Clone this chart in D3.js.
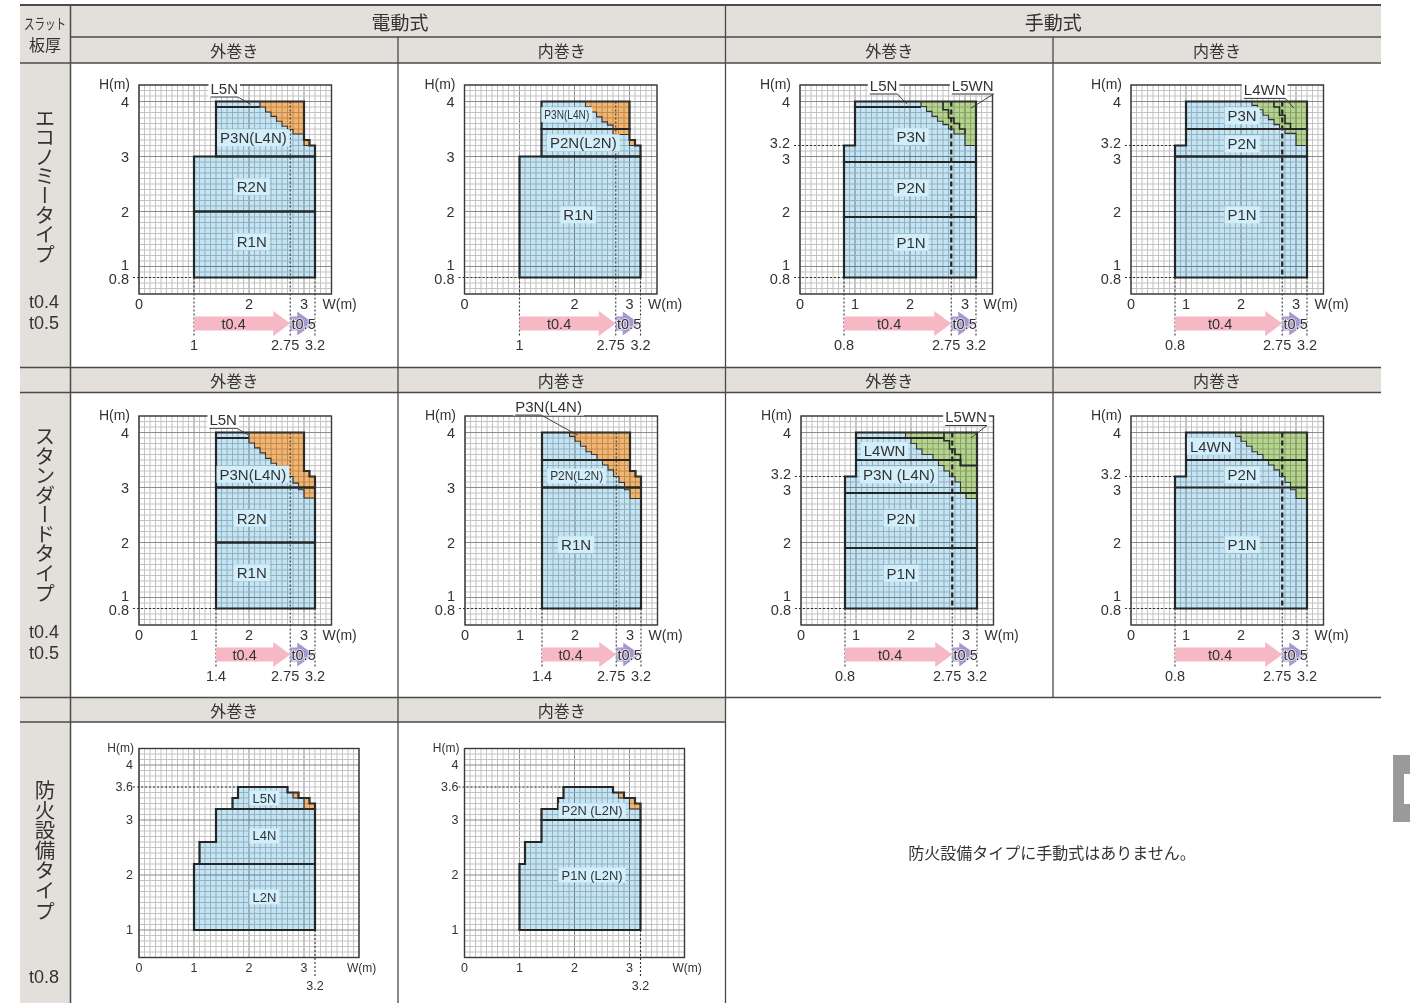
<!DOCTYPE html>
<html><head><meta charset="utf-8">
<script src="https://cdn.jsdelivr.net/npm/d3@7"></script>
<style>
body{margin:0;background:#fff;}
svg{display:block;font-family:"Liberation Sans",Arial,sans-serif;}
.jp{font-family:"Noto Sans CJK JP","Noto Sans",sans-serif;}
</style></head><body>
<svg id="c" width="1410" height="1003"></svg>
<script>
// ---------------- categories / texts ----------------
const driveTypes = ["電動式", "手動式"];
const windTypes = ["外巻き", "内巻き"];
const rowTypes = ["エコノミータイプ", "スタンダードタイプ", "防火設備タイプ"];
const rowThickness = [["t0.4", "t0.5"], ["t0.4", "t0.5"], ["t0.8"]];
const bandLabels = ["t0.4", "t0.5"];
const fireNote = "防火設備タイプに手動式はありません。";

// ---------------- key values (m) ----------------
const bandSplitW = 2.75;
const maxW = 3.2;
const minH = 0.8;
const stepH = 3.2;
const fireMaxH = 3.6;
const fireMinH = 1;
const minW = [1, 1, 0.8, 0.8, 1.4, 1.4, 0.8, 0.8];   // panels A..H

// ---------------- tick labels ----------------
const xTicksEco = [0, 2, 3];
const xTicksAll = [0, 1, 2, 3];
const yTicksElec = [4, 3, 2, 1, 0.8];
const yTicksMan = [4, 3.2, 3, 2, 1, 0.8];
const yTicksFire = [4, 3.6, 3, 2, 1];

// ---------------- A: エコノミー / 電動 / 外巻き ----------------
const aRegions = [[[1,0.8],[3.2,0.8],[3.2,2],[1,2]], [[1,2],[3.2,2],[3.2,3],[1,3]],
  [[1.4,3],[3.2,3],[3.2,3.2],[3.1,3.2],[3.1,3.3],[3,3.3],[3,4],[1.4,4]]];
const aColored = [[[2.2,4],[3,4],[3,3.41],[2.8,3.41],[2.8,3.49],[2.7,3.49],[2.7,3.55],[2.6,3.55],[2.6,3.64],[2.5,3.64],[2.5,3.73],[2.4,3.73],[2.4,3.81],[2.3,3.81],[2.3,3.9],[2.2,3.9]],
  [[3,3.2],[3.1,3.2],[3.1,3.3],[3,3.3]]];
const aLines = [[[1.4,3.9],[2.2,3.9]]];
const aInner = [];
const aLabels = [["R1N",2.05,1.45],["R2N",2.05,2.45],["P3N(L4N)",2.08,3.34]];
const aCallouts = [["L5N",1.55,4.245,2.03,3.95,1]];

// ---------------- B: エコノミー / 電動 / 内巻き ----------------
const bRegions = [[[1,0.8],[3.2,0.8],[3.2,3],[1,3]],
  [[1.4,3],[3.2,3],[3.2,3.2],[3.1,3.2],[3.1,3.3],[3,3.3],[3,3.5],[1.4,3.5]],
  [[1.4,3.5],[3,3.5],[3,4],[1.4,4]]];
const bColored = [[[2.2,4],[3,4],[3,3.4],[2.7,3.4],[2.7,3.57],[2.6,3.57],[2.6,3.63],[2.5,3.63],[2.5,3.72],[2.4,3.72],[2.4,3.81],[2.3,3.81],[2.3,3.9],[2.2,3.9]],
  [[3,3.2],[3.1,3.2],[3.1,3.3],[3,3.3]]];
const bLines = [];
const bInner = [];
const bLabels = [["R1N",2.07,1.94],["P2N(L2N)",2.16,3.25],["P3N(L4N)",1.86,3.76,45]];
const bCallouts = [];

// ---------------- C: エコノミー / 手動 / 外巻き ----------------
const cRegions = [[[0.8,0.8],[3.2,0.8],[3.2,1.9],[0.8,1.9]], [[0.8,1.9],[3.2,1.9],[3.2,2.9],[0.8,2.9]],
  [[0.8,2.9],[3.2,2.9],[3.2,4],[1,4],[1,3.2],[0.8,3.2]]];
const cColored = [[[2.2,4],[3.2,4],[3.2,3.2],[3,3.2],[3,3.41],[2.8,3.41],[2.8,3.5],[2.7,3.5],[2.7,3.58],[2.6,3.58],[2.6,3.64],[2.5,3.64],[2.5,3.73],[2.4,3.73],[2.4,3.82],[2.3,3.82],[2.3,3.91],[2.2,3.91]]];
const cLines = [[[1,3.9],[2.2,3.9]]];
const cInner = [[[2.6,4],[2.6,3.85],[2.7,3.85],[2.7,3.7],[2.8,3.7],[2.8,3.6],[2.9,3.6],[2.9,3.5],[3,3.5],[3,3.41]]];
const cLabels = [["P1N",2.02,1.44],["P2N",2.02,2.43],["P3N",2.02,3.36]];
const cCallouts = [["L5N",1.52,4.3,1.95,3.95,1],["L5WN",3.14,4.3,3.11,3.88,1]];

// ---------------- D: エコノミー / 手動 / 内巻き ----------------
const dRegions = [[[0.8,0.8],[3.2,0.8],[3.2,3],[0.8,3]], [[0.8,3],[3.2,3],[3.2,3.5],[1,3.5],[1,3.2],[0.8,3.2]],
  [[1,3.5],[3.2,3.5],[3.2,4],[1,4]]];
const dColored = [[[2.2,4],[3.2,4],[3.2,3.2],[3,3.2],[3,3.42],[2.8,3.42],[2.8,3.5],[2.7,3.5],[2.7,3.58],[2.6,3.58],[2.6,3.67],[2.5,3.67],[2.5,3.75],[2.4,3.75],[2.4,3.85],[2.3,3.85],[2.3,3.93],[2.2,3.93]]];
const dLines = [];
const dInner = [[[2.6,4],[2.6,3.9],[2.7,3.9],[2.7,3.75],[2.8,3.75],[2.8,3.6],[2.9,3.6],[2.9,3.5]]];
const dLabels = [["P1N",2.02,1.94],["P2N",2.02,3.23],["P3N",2.02,3.74]];
const dCallouts = [["L4WN",2.43,4.22,2.96,3.88,1]];

// ---------------- E: スタンダード / 電動 / 外巻き ----------------
const eRegions = [[[1.4,0.8],[3.2,0.8],[3.2,2],[1.4,2]], [[1.4,2],[3.2,2],[3.2,3],[1.4,3]],
  [[1.4,3],[3.2,3],[3.2,3.2],[3.1,3.2],[3.1,3.3],[3,3.3],[3,4],[1.4,4]]];
const eColored = [[[2,4],[3,4],[3,3.3],[3.1,3.3],[3.1,3.2],[3.2,3.2],[3.2,2.81],[3,2.81],[3,2.96],[2.9,2.96],[2.9,3.08],[2.8,3.08],[2.8,3.2],[2.7,3.2],[2.7,3.29],[2.6,3.29],[2.6,3.38],[2.5,3.38],[2.5,3.44],[2.4,3.44],[2.4,3.53],[2.3,3.53],[2.3,3.63],[2.2,3.63],[2.2,3.72],[2.1,3.72],[2.1,3.81],[2,3.81]]];
const eLines = [[[1.4,3.9],[2,3.9]]];
const eInner = [];
const eLabels = [["R1N",2.05,1.45],["R2N",2.05,2.44],["P3N(L4N)",2.07,3.24]];
const eCallouts = [["L5N",1.53,4.24,1.98,3.96,1]];

// ---------------- F: スタンダード / 電動 / 内巻き ----------------
const fRegions = [[[1.4,0.8],[3.2,0.8],[3.2,3],[1.4,3]],
  [[1.4,3],[3.2,3],[3.2,3.2],[3.1,3.2],[3.1,3.3],[3,3.3],[3,3.5],[1.4,3.5]],
  [[1.4,3.5],[3,3.5],[3,4],[1.4,4]]];
const fColored = [[[1.9,4],[3,4],[3,3.3],[3.1,3.3],[3.1,3.2],[3.2,3.2],[3.2,2.8],[3,2.8],[3,2.96],[2.9,2.96],[2.9,3.09],[2.8,3.09],[2.8,3.2],[2.7,3.2],[2.7,3.32],[2.6,3.32],[2.6,3.41],[2.5,3.41],[2.5,3.5],[2.4,3.5],[2.4,3.6],[2.3,3.6],[2.3,3.65],[2.2,3.65],[2.2,3.75],[2.1,3.75],[2.1,3.84],[2,3.84],[2,3.93],[1.9,3.93]]];
const fLines = [];
const fInner = [];
const fLabels = [["R1N",2.02,1.96],["P2N(L2N)",2.03,3.21,53]];
const fCallouts = [["P3N(L4N)",1.52,4.48,2.05,3.95,0.39]];

// ---------------- G: スタンダード / 手動 / 外巻き ----------------
const gRegions = [[[0.8,0.8],[3.2,0.8],[3.2,4],[1,4],[1,3.2],[0.8,3.2]]];
const gColored = [[[1.9,4],[3.2,4],[3.2,2.8],[3,2.8],[3,2.9],[2.9,2.9],[2.9,3.1],[2.8,3.1],[2.8,3.2],[2.7,3.2],[2.7,3.3],[2.6,3.3],[2.6,3.4],[2.5,3.4],[2.5,3.5],[2.4,3.5],[2.4,3.6],[2.2,3.6],[2.2,3.7],[2.1,3.7],[2.1,3.8],[2,3.8],[2,3.9],[1.9,3.9]]];
const gLines = [[[0.8,1.9],[3.2,1.9]], [[0.8,2.9],[3.2,2.9]], [[1,3.5],[2.9,3.5],[2.9,3.4],[3.2,3.4]], [[1,3.9],[2.6,3.9]]];
const gInner = [[[2.6,4],[2.6,3.85],[2.7,3.85],[2.7,3.7],[2.8,3.7],[2.8,3.6],[2.9,3.6],[2.9,3.5]]];
const gLabels = [["P1N",1.82,1.44],["P2N",1.82,2.44],["P3N (L4N)",1.78,3.23,72,15],["L4WN",1.52,3.67]];
const gCallouts = [["L5WN",3.0,4.29,3.09,3.9,1]];

// ---------------- H: スタンダード / 手動 / 内巻き ----------------
const hRegions = [[[0.8,0.8],[3.2,0.8],[3.2,4],[1,4],[1,3.2],[0.8,3.2]]];
const hColored = [[[1.9,4],[3.2,4],[3.2,2.8],[3,2.8],[3,2.96],[2.9,2.96],[2.9,3.09],[2.8,3.09],[2.8,3.2],[2.7,3.2],[2.7,3.32],[2.6,3.32],[2.6,3.41],[2.5,3.41],[2.5,3.5],[2.4,3.5],[2.4,3.6],[2.3,3.6],[2.3,3.65],[2.2,3.65],[2.2,3.75],[2.1,3.75],[2.1,3.84],[2,3.84],[2,3.93],[1.9,3.93]]];
const hLines = [[[0.8,3],[3.2,3]], [[1,3.5],[3.2,3.5]]];
const hInner = [];
const hLabels = [["P1N",2.02,1.96],["P2N",2.02,3.23],["L4WN",1.45,3.75]];
const hCallouts = [];

// ---------------- I: 防火設備 / 外巻き ----------------
const iRegions = [[[1,1],[3.2,1],[3.2,2.2],[1,2.2]],
  [[1.1,2.2],[3.2,2.2],[3.2,3.2],[1.4,3.2],[1.4,2.6],[1.1,2.6]],
  [[1.7,3.2],[3.2,3.2],[3.2,3.3],[3.1,3.3],[3.1,3.4],[2.9,3.4],[2.9,3.5],[2.7,3.5],[2.7,3.6],[1.8,3.6],[1.8,3.4],[1.7,3.4]]];
const iColored = [[[2.8,3.4],[2.9,3.4],[2.9,3.5],[2.8,3.5]], [[3,3.2],[3.2,3.2],[3.2,3.3],[3.1,3.3],[3.1,3.4],[3,3.4]]];
const iLabels = [["L5N",2.28,3.4],["L4N",2.28,2.71],["L2N",2.28,1.6]];

// ---------------- J: 防火設備 / 内巻き ----------------
const jRegions = [[[1,1],[3.2,1],[3.2,3],[1.4,3],[1.4,2.6],[1.1,2.6],[1.1,2.2],[1,2.2]],
  [[1.4,3],[3.2,3],[3.2,3.3],[3.1,3.3],[3.1,3.4],[2.9,3.4],[2.9,3.5],[2.7,3.5],[2.7,3.6],[1.8,3.6],[1.8,3.4],[1.7,3.4],[1.7,3.2],[1.4,3.2]]];
const jColored = [[[2.8,3.4],[2.9,3.4],[2.9,3.5],[2.8,3.5]], [[3,3.2],[3.2,3.2],[3.2,3.3],[3.1,3.3],[3.1,3.4],[3,3.4]]];
const jLabels = [["P2N (L2N)",2.32,3.17,61,13],["P1N (L2N)",2.32,2.0,61,13]];

// ================= drawing =================
const UNIT = 55;
const BLUE = "#c3e5f5", LABEL_BG = "#d2eefb", ORANGE = "#f4b66f", GREEN = "#b5d48d", GRAY = "#e3dfdb", INK = "#333";
const svg = d3.select("#c");

// ---- table ----
const colX = [20, 70.5, 398, 725.5, 1053, 1381];
const grayRects = [
  [20, 5, 1381, 63], [20, 63, 70.5, 367.5], [20, 367.5, 1381, 392.5], [20, 392.5, 70.5, 697.5],
  [20, 697.5, 725.5, 722], [20, 722, 70.5, 1003]
];
svg.append("g").selectAll("rect").data(grayRects).join("rect")
  .attr("x", d => d[0]).attr("y", d => d[1]).attr("width", d => d[2] - d[0]).attr("height", d => d[3] - d[1])
  .attr("fill", GRAY);
const tLines = [
  [20, 5, 1381, 5, 2], [70.5, 37, 1381, 37, 1.3], [20, 63, 1381, 63, 1.5], [20, 367.5, 1381, 367.5, 1.5],
  [20, 392.5, 1381, 392.5, 1.3], [20, 697.5, 1381, 697.5, 1.5], [20, 722, 725.5, 722, 1.3],
  [70.5, 5, 70.5, 1003, 1.5], [398, 37, 398, 1003, 1.3], [725.5, 5, 725.5, 1003, 1.3], [1053, 37, 1053, 697.5, 1.3]
];
svg.append("g").selectAll("line").data(tLines).join("line")
  .attr("x1", d => d[0]).attr("y1", d => d[1]).attr("x2", d => d[2]).attr("y2", d => d[3])
  .attr("stroke", "#4a4a4a").attr("stroke-width", d => d[4]);

function jpText(x, y, s, size, extra) {
  const t = svg.append("text").attr("class", "jp").attr("x", x).attr("y", y)
    .attr("text-anchor", "middle").attr("dominant-baseline", "central")
    .attr("font-size", size).attr("fill", INK).text(s);
  if (extra) extra(t);
  return t;
}
jpText(45, 22, "スラット", 14.5, t => t.attr("textLength", 42).attr("lengthAdjust", "spacingAndGlyphs"));
jpText(45, 44, "板厚", 16);
jpText((colX[1] + colX[3]) / 2 + 2, 21.5, driveTypes[0], 19);
jpText((colX[3] + colX[5]) / 2, 21.5, driveTypes[1], 19);
const subRows = [[50, 4], [380, 4], [710, 2]];
subRows.forEach(([yy, n]) => {
  for (let c = 0; c < n; c++) jpText((colX[c + 1] + colX[c + 2]) / 2, yy, windTypes[c % 2], 16);
});
// left vertical type labels (one vertical text each)
const typeStart = [108, 426, 780], typeLen = [156, 177, 141];
rowTypes.forEach((t, i) => {
  svg.append("text").attr("class", "jp").attr("x", 45).attr("y", typeStart[i])
    .style("writing-mode", "vertical-rl").attr("text-anchor", "start")
    .attr("font-size", 20.5).attr("fill", INK)
    .attr("textLength", typeLen[i]).attr("lengthAdjust", "spacing").text(t);
});
const thickY = [[302, 323], [632, 653], [977]];
rowThickness.forEach((arr, i) => arr.forEach((s, j) => {
  svg.append("text").attr("x", 44).attr("y", thickY[i][j]).attr("text-anchor", "middle")
    .attr("dominant-baseline", "central").attr("font-size", 18).attr("fill", INK).text(s);
}));
jpText(1052, 852, fireNote, 16);
// page tab
svg.append("rect").attr("x", 1393).attr("y", 755).attr("width", 17).attr("height", 67).attr("fill", "#9a9a9a");
svg.append("rect").attr("x", 1404).attr("y", 774).attr("width", 6).attr("height", 30).attr("fill", "#fff");

// ---- panels ----
function drawPanel(p) {
  const g = svg.append("g");
  const x = d3.scaleLinear().domain([0, p.xMax]).range([p.left, p.left + UNIT * p.xMax]);
  const y = d3.scaleLinear().domain([0.5, 4.3]).range([p.top + UNIT * 3.8, p.top]);
  const X0 = x(0), X1 = x(p.xMax), Y0 = y(0.5), Y1 = y(4.3);
  const ln = d3.line().x(d => x(d[0])).y(d => y(d[1]));
  const poly = d => ln(d) + "Z";
  const fs = p.fire ? 12.5 : 14.5;
  const lfs = p.fire ? 13 : 15;

  g.append("rect").attr("x", X0).attr("y", Y1).attr("width", X1 - X0).attr("height", Y0 - Y1).attr("fill", "#fff");
  g.append("g").selectAll("path").data(p.regions).join("path").attr("d", poly).attr("fill", BLUE);
  g.append("g").selectAll("path").data(p.colored).join("path").attr("d", poly).attr("fill", p.color);

  const gx = d3.range(0, Math.round(p.xMax * 10) + 1).map(i => i / 10);
  const gy = d3.range(5, 44).map(i => i / 10);
  const isMajor = v => Math.abs(v - Math.round(v)) < 1e-6;
  const grid = g.append("g").style("mix-blend-mode", "multiply");
  grid.selectAll("line.v").data(gx).join("line").attr("class", "v")
    .attr("x1", d => x(d)).attr("x2", d => x(d)).attr("y1", Y0).attr("y2", Y1)
    .attr("stroke", d => isMajor(d) ? "#8c8c8c" : "#c3c3c3").attr("stroke-width", 1);
  grid.selectAll("line.h").data(gy).join("line").attr("class", "h")
    .attr("y1", d => y(d)).attr("y2", d => y(d)).attr("x1", X0).attr("x2", X1)
    .attr("stroke", d => isMajor(d) ? "#8c8c8c" : "#c3c3c3").attr("stroke-width", 1);
  g.append("rect").attr("x", X0).attr("y", Y1).attr("width", X1 - X0).attr("height", Y0 - Y1)
    .attr("fill", "none").attr("stroke", "#3a3a3a").attr("stroke-width", 1.4);

  // guides
  const dropEnd = Y0 + (p.fire ? 19 : 43);
  const thin = (x1, y1, x2, y2) => g.append("line").attr("x1", x1).attr("y1", y1).attr("x2", x2).attr("y2", y2)
    .attr("stroke", "#333").attr("stroke-width", 1.1).attr("stroke-dasharray", "2,2");
  p.vGuides.forEach(([gv, from, kind]) => {
    if (kind === "thick") {
      g.append("line").attr("x1", x(gv)).attr("x2", x(gv)).attr("y1", y(from)).attr("y2", y(p.floor))
        .attr("stroke", "#222").attr("stroke-width", 2.2).attr("stroke-dasharray", "5,3");
      thin(x(gv), y(p.floor), x(gv), dropEnd);
    } else thin(x(gv), y(from), x(gv), dropEnd);
  });
  p.hGuides.forEach(([hv, to]) => thin(X0 - 6, y(hv), x(to), y(hv)));

  // outlines
  g.append("g").selectAll("path").data(p.regions).join("path").attr("d", poly)
    .attr("fill", "none").attr("stroke", "#262626").attr("stroke-width", 2.2).attr("stroke-linejoin", "miter");
  g.append("g").selectAll("path").data(p.colored).join("path").attr("d", poly)
    .attr("fill", "none").attr("stroke", "#333").attr("stroke-width", 1.1);
  g.append("g").selectAll("path").data(p.lines).join("path").attr("d", ln)
    .attr("fill", "none").attr("stroke", "#262626").attr("stroke-width", 2.2);
  g.append("g").selectAll("path").data(p.inner).join("path").attr("d", ln)
    .attr("fill", "none").attr("stroke", "#262626").attr("stroke-width", 1.6);

  // region labels
  p.labels.forEach(([txt, lx, ly, tl, tfs]) => {
    const t = g.append("text").attr("x", x(lx)).attr("y", y(ly)).attr("text-anchor", "middle")
      .attr("dominant-baseline", "central").attr("font-size", tfs || (tl ? 13 : lfs)).attr("fill", INK).text(txt);
    if (tl) t.attr("textLength", tl).attr("lengthAdjust", "spacingAndGlyphs");
    const bb = t.node().getBBox();
    g.insert("rect", () => t.node()).attr("x", bb.x - 3).attr("y", bb.y).attr("width", bb.width + 6)
      .attr("height", bb.height).attr("fill", LABEL_BG);
  });

  // callouts
  p.callouts.forEach(([txt, cx, cy, tx, ty, frac]) => {
    const t = g.append("text").attr("x", x(cx)).attr("y", y(cy)).attr("text-anchor", "middle")
      .attr("dominant-baseline", "central").attr("font-size", lfs).attr("fill", INK).text(txt);
    const bb = t.node().getBBox();
    g.insert("rect", () => t.node()).attr("x", bb.x - 2).attr("y", bb.y).attr("width", bb.width + 4)
      .attr("height", bb.height + 1).attr("fill", "#fff");
    const uy = bb.y + bb.height + 0.5;
    const sx = bb.x + bb.width * frac;
    g.append("line").attr("x1", bb.x).attr("x2", sx).attr("y1", uy).attr("y2", uy).attr("stroke", "#333").attr("stroke-width", 1);
    g.append("line").attr("x1", sx).attr("y1", uy).attr("x2", x(tx)).attr("y2", y(ty)).attr("stroke", "#333").attr("stroke-width", 0.9);
  });

  // ticks (small nudges where two labels sit close together)
  const tg = p.fire ? 6 : 10;
  const nudge = d => {
    if (p.fire) return 0;
    if (d === 1) return -1.5;
    if (d === 0.8) return 1;
    if (d === 3.2) return -2.5;
    if (d === 3 && p.yTicks.includes(3.2)) return 2.5;
    return 0;
  };
  g.append("g").selectAll("text").data(p.yTicks).join("text")
    .attr("x", X0 - tg).attr("y", d => y(d) + nudge(d))
    .attr("text-anchor", "end").attr("dominant-baseline", "central")
    .attr("font-size", fs).attr("fill", INK).text(d => d);
  g.append("text").attr("x", X0 - (p.fire ? 5 : 9)).attr("y", Y1 - 1).attr("text-anchor", "end")
    .attr("dominant-baseline", "central").attr("font-size", fs - 0.5).attr("fill", INK).text("H(m)");
  g.append("g").selectAll("text").data(p.xTicks).join("text")
    .attr("x", d => x(d)).attr("y", Y0 + 10).attr("text-anchor", "middle").attr("dominant-baseline", "central")
    .attr("font-size", fs).attr("fill", INK).text(d => d);
  g.append("text").attr("x", X1 - (p.fire ? 12 : 9)).attr("y", Y0 + 10).attr("dominant-baseline", "central")
    .attr("font-size", fs - 0.5).attr("fill", INK).text("W(m)");

  if (p.fire) {
    g.append("text").attr("x", x(maxW)).attr("y", Y0 + 28).attr("text-anchor", "middle")
      .attr("dominant-baseline", "central").attr("font-size", fs).attr("fill", INK).text(maxW);
    return;
  }
  // arrows
  const cy = Y0 + 29.5;
  const xs = x(p.arrowStart), xm = x(bandSplitW), xe = x(maxW);
  const arrow = (a, b, head, bh, hh) => `M${a},${cy - bh}L${b - head},${cy - bh}L${b - head},${cy - hh}L${b},${cy}L${b - head},${cy + hh}L${b - head},${cy + bh}L${a},${cy + bh}Z`;
  g.append("path").attr("d", arrow(xs, xm, 17, 7, 12.5)).attr("fill", "#f5b8c4");
  g.append("path").attr("d", arrow(xm, xe - 1, xe - 1 - xm - 7, 7, 12)).attr("fill", "#a897cf");
  g.append("text").attr("x", (xs + xm - 17) / 2).attr("y", cy).attr("text-anchor", "middle")
    .attr("dominant-baseline", "central").attr("font-size", fs).attr("fill", INK).text(bandLabels[0]);
  g.append("text").attr("x", (xm + xe) / 2 + 1).attr("y", cy).attr("text-anchor", "middle")
    .attr("dominant-baseline", "central").attr("font-size", fs).attr("fill", INK)
    .attr("stroke", "#fff").attr("stroke-width", 2).attr("stroke-opacity", 0.7).attr("paint-order", "stroke").text(bandLabels[1]);
  const by = Y0 + 50.5;
  g.append("text").attr("x", xs).attr("y", by).attr("text-anchor", "middle").attr("dominant-baseline", "central")
    .attr("font-size", fs).attr("fill", INK).text(p.arrowStart);
  g.append("text").attr("x", xm + 9).attr("y", by).attr("text-anchor", "end").attr("dominant-baseline", "central")
    .attr("font-size", fs).attr("fill", INK).text(bandSplitW);
  g.append("text").attr("x", xe - 10).attr("y", by).attr("dominant-baseline", "central")
    .attr("font-size", fs).attr("fill", INK).text(maxW);
}

const lefts = [139, 464.5, 800, 1131];
const tops = [85, 416, 748.5];
const elecV = (i) => [[minW[i], minH, "thin"], [bandSplitW, 4, "thin"], [maxW, minH, "thin"]];
const manV = (i) => [[minW[i], minH, "thin"], [bandSplitW, 4, "thick"], [maxW, minH, "thin"]];
const panels = [
  {left: lefts[0], top: tops[0], regions: aRegions, colored: aColored, color: ORANGE, lines: aLines, inner: aInner, labels: aLabels, callouts: aCallouts, xTicks: xTicksEco, yTicks: yTicksElec, vGuides: elecV(0), hGuides: [[minH, minW[0]]], arrowStart: minW[0]},
  {left: lefts[1], top: tops[0], regions: bRegions, colored: bColored, color: ORANGE, lines: bLines, inner: bInner, labels: bLabels, callouts: bCallouts, xTicks: xTicksEco, yTicks: yTicksElec, vGuides: elecV(1), hGuides: [[minH, minW[1]]], arrowStart: minW[1]},
  {left: lefts[2], top: tops[0], regions: cRegions, colored: cColored, color: GREEN, lines: cLines, inner: cInner, labels: cLabels, callouts: cCallouts, xTicks: xTicksAll, yTicks: yTicksMan, vGuides: manV(2), hGuides: [[stepH, minW[2]], [minH, minW[2]]], arrowStart: minW[2]},
  {left: lefts[3], top: tops[0], regions: dRegions, colored: dColored, color: GREEN, lines: dLines, inner: dInner, labels: dLabels, callouts: dCallouts, xTicks: xTicksAll, yTicks: yTicksMan, vGuides: manV(3), hGuides: [[stepH, minW[3]], [minH, minW[3]]], arrowStart: minW[3]},
  {left: lefts[0], top: tops[1], regions: eRegions, colored: eColored, color: ORANGE, lines: eLines, inner: eInner, labels: eLabels, callouts: eCallouts, xTicks: xTicksAll, yTicks: yTicksElec, vGuides: elecV(4), hGuides: [[minH, minW[4]]], arrowStart: minW[4]},
  {left: lefts[1] + 0.5, top: tops[1], regions: fRegions, colored: fColored, color: ORANGE, lines: fLines, inner: fInner, labels: fLabels, callouts: fCallouts, xTicks: xTicksAll, yTicks: yTicksElec, vGuides: elecV(5), hGuides: [[minH, minW[5]]], arrowStart: minW[5]},
  {left: lefts[2] + 1, top: tops[1], regions: gRegions, colored: gColored, color: GREEN, lines: gLines, inner: gInner, labels: gLabels, callouts: gCallouts, xTicks: xTicksAll, yTicks: yTicksMan, vGuides: manV(6), hGuides: [[stepH, minW[6]], [minH, minW[6]]], arrowStart: minW[6]},
  {left: lefts[3], top: tops[1], regions: hRegions, colored: hColored, color: GREEN, lines: hLines, inner: hInner, labels: hLabels, callouts: hCallouts, xTicks: xTicksAll, yTicks: yTicksMan, vGuides: manV(7), hGuides: [[stepH, minW[7]], [minH, minW[7]]], arrowStart: minW[7]},
  {left: lefts[0], top: tops[2], fire: true, xMax: 4, regions: iRegions, colored: iColored, color: ORANGE, lines: [], inner: [], labels: iLabels, callouts: [], xTicks: xTicksAll, yTicks: yTicksFire, vGuides: [[maxW, fireMinH, "thin"]], hGuides: [[fireMaxH, 1.8]]},
  {left: lefts[1], top: tops[2], fire: true, xMax: 4, regions: jRegions, colored: jColored, color: ORANGE, lines: [], inner: [], labels: jLabels, callouts: [], xTicks: xTicksAll, yTicks: yTicksFire, vGuides: [[maxW, fireMinH, "thin"]], hGuides: [[fireMaxH, 1.8]]}
];
panels.forEach(p => { if (!p.xMax) p.xMax = 3.5; p.floor = minH; drawPanel(p); });
</script>
</body></html>
